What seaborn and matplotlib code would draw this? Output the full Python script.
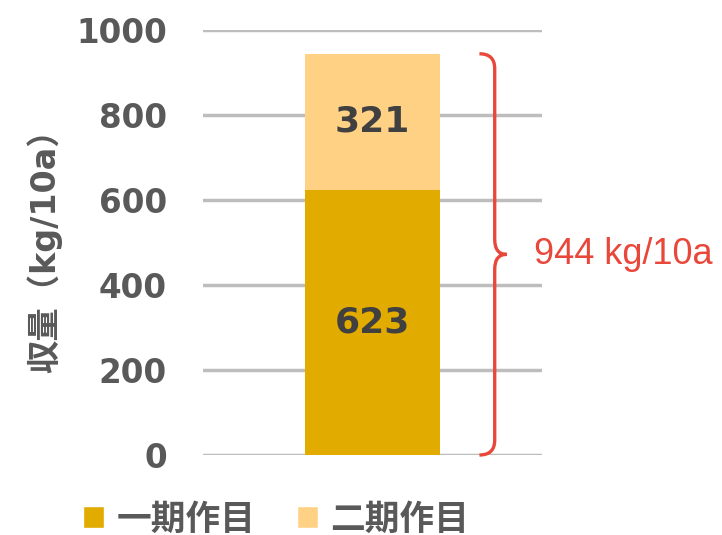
import matplotlib
matplotlib.use("Agg")
import matplotlib.pyplot as plt
import seaborn as sns
import pandas as pd
from matplotlib.patches import Patch
from matplotlib.path import Path
from matplotlib.patches import PathPatch
import matplotlib.transforms as mtransforms

categories = [""]
first_crop = [623]
second_crop = [321]
series_names = ["一期作目", "二期作目"]
y_ticks = [0, 200, 400, 600, 800, 1000]
total_label = "944 kg/10a"
y_label = "収量（kg/10a）"

dark_gold = "#E2AB00"
light_gold = "#FFD185"
gray_text = "#595959"
red = "#E8473A"

sns.set_theme(style="white")
plt.rcParams['font.family'] = ['DejaVu Sans', 'Noto Sans CJK JP']

df = pd.DataFrame({"cat": categories, "first": first_crop, "second": second_crop})
df["total"] = df["first"] + df["second"]

fig = plt.figure(figsize=(7.22, 5.35), dpi=100)
ax = fig.add_axes([0.281, 0.1495, 0.470, 0.7945])

# stacked: total bar behind, first season bar in front
sns.barplot(data=df, x="cat", y="total", color=light_gold, width=0.4,
            saturation=1, ax=ax, zorder=2, linewidth=0)
sns.barplot(data=df, x="cat", y="first", color=dark_gold, width=0.4,
            saturation=1, ax=ax, zorder=3, linewidth=0)

ax.set_ylim(0, 1000)
ax.set_xlim(-0.5, 0.5)
ax.set_yticks(y_ticks)
ax.set_yticklabels([str(t) for t in y_ticks], fontsize=23.5, fontweight="bold",
                   color=gray_text, family="DejaVu Sans")
ax.tick_params(axis="y", length=0, pad=26)
ax.set_xticks([])
ax.set_xlabel("")
ax.set_ylabel(y_label, family=["DejaVu Sans", "Noto Sans CJK JP"], fontweight="bold",
              fontsize=24, color=gray_text, labelpad=10)
ax.grid(axis="y", color="#BDBDBD", linewidth=2.5, zorder=0)
ax.set_axisbelow(True)
sns.despine(ax=ax, left=True, bottom=True)

# value labels inside segments
for i, row in df.iterrows():
    ax.text(i, row["first"] / 2, str(row["first"]), ha="center", va="center",
            fontsize=26, fontweight="bold", color="#404040", zorder=5)
    ax.text(i, row["first"] + row["second"] / 2, str(row["second"]), ha="center",
            va="center", fontsize=26, fontweight="bold", color="#404040", zorder=5)

# curly brace spanning the total
total = df["total"].iloc[0]
trans = mtransforms.blended_transform_factory(ax.transAxes, ax.transData)
x0, xm, xt = 0.815, 0.86, 0.895
mid = total / 2
c = 35
verts = [
    (x0, total), (xm, total), (xm, total - c),
    (xm, mid + c), (xm, mid), (xt, mid),
    (xm, mid), (xm, mid - c),
    (xm, c), (xm, 0), (x0, 0),
]
codes = [Path.MOVETO, Path.CURVE3, Path.CURVE3,
         Path.LINETO, Path.CURVE3, Path.CURVE3,
         Path.CURVE3, Path.CURVE3,
         Path.LINETO, Path.CURVE3, Path.CURVE3]
brace = PathPatch(Path(verts, codes), transform=trans, fill=False,
                  edgecolor=red, linewidth=2.4, clip_on=False)
ax.add_patch(brace)
ax.text(0.975, mid, total_label, transform=trans, ha="left", va="center",
        fontsize=26, color=red, family="Liberation Sans")

handles = [Patch(facecolor=dark_gold, label=series_names[0]),
           Patch(facecolor=light_gold, label=series_names[1])]
fig.legend(handles=handles, loc="center", bbox_to_anchor=(276 / 722, 1 - 519 / 535),
           ncol=2, frameon=False, handlelength=0.6, handleheight=0.6,
           handletextpad=0.35, columnspacing=1.2,
           prop={"family": ["Noto Sans CJK JP"], "weight": "bold", "size": 25})
for t in fig.legends[0].get_texts():
    t.set_color(gray_text)

fig.savefig("out.png", dpi=100)
